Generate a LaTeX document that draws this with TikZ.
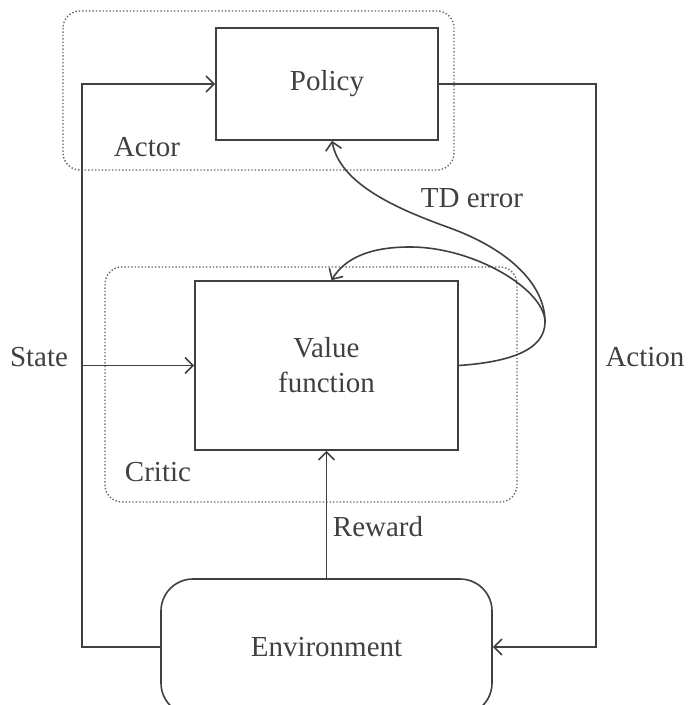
\documentclass[tikz,border=0pt]{standalone}
\usepackage{fontspec}
\setmainfont{Liberation Serif}
\usetikzlibrary{arrows.meta}

\begin{document}
\begin{tikzpicture}[x = 0.5pt, y = -0.5pt, line width = 0.8pt, color = black!75,
		every node/.style = {font = \fontsize{14.5}{17.5}\selectfont},
		arr/.style = {-{Straight Barb[length = 4pt, width = 8pt]}},
		block/.style = {draw, rectangle, inner sep = 0pt},
		group/.style = {draw = black!60, line width = 0.7pt, dash pattern = on 0.7pt off 1pt, rounded corners = 8.5pt}]
			\clip (0, 0) rectangle (689, 705);
			
			\draw[group] (63, 11) rectangle (454, 170);
			\draw[group] (105, 267) rectangle (517, 502);
			
			\node[block, minimum width = 111pt, minimum height = 56pt] (pol) at (327, 84) {Policy};
			\node[block, minimum width = 131.5pt, minimum height = 84.5pt, align = center] (vf) at (326.5, 365.5) {Value\\function};
			\node[block, rounded corners = 16pt, minimum width = 165.5pt, minimum height = 68pt] (env) at (326.5, 647) {Environment};
			
			\node (actor) at (147, 147) {Actor};
			\node (critic) at (158, 472) {Critic};
			\node (state) at (39, 357) {State};
			\node (action) at (645, 357) {Action};
			\node (reward) at (378, 527) {Reward};
			\node (tderr) at (472, 198) {TD error};
			
			\coordinate (sw) at (82, 647);
			\coordinate (ae) at (596, 647);
			\coordinate (td) at (545, 322);
			
			\draw[arr] (env.west) -- (sw) |- (pol.west);
			\draw[arr] (sw |- vf.west) -- (vf.west);
			\draw[arr] (pol.east) -| (ae) -- (env.east);
			\draw[arr] (env.north) -- (vf.south);
			
			% TD error
			\draw (vf.east) .. controls (510, 362) and (545, 350) .. (td);
			\draw[arr] (td) .. controls (545, 285) and (510, 250) .. (450, 228)
				.. controls (400, 210) and (340, 185) .. ([xshift = 2.5pt]pol.south);
			\draw[arr] (td) .. controls (545, 290) and (475, 247) .. (410, 247)
				.. controls (370, 247) and (345, 258) .. ([xshift = 2.5pt]vf.north);
		\end{tikzpicture}
\end{document}
